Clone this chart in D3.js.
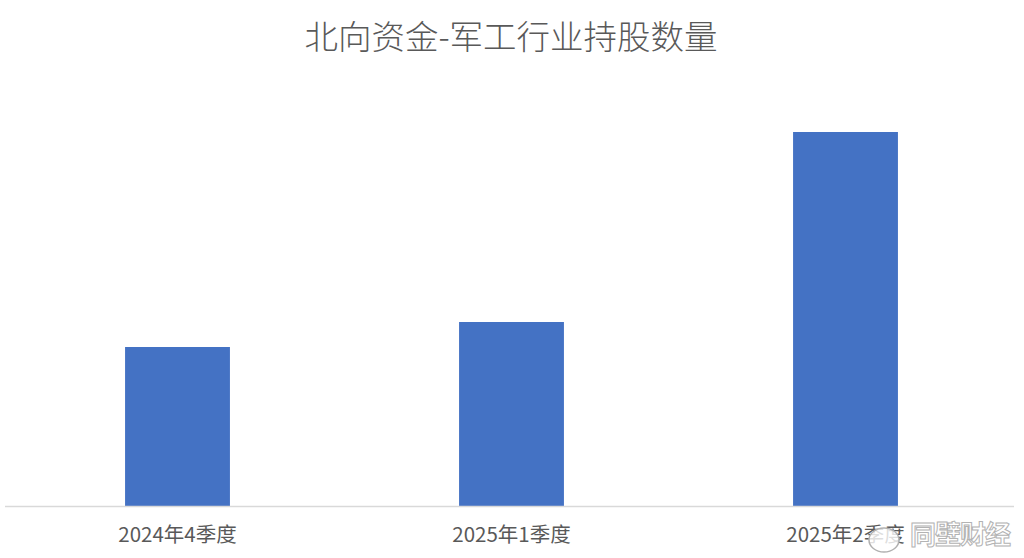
<!DOCTYPE html>
<html>
<head>
<meta charset="utf-8">
<script src="https://cdn.jsdelivr.net/npm/d3@7"></script>
<style>
  body { margin: 0; background: #fff; }
</style>
</head>
<body>
<svg id="chart"></svg>
<script>
// Data
const categories = ["2024年4季度", "2025年1季度", "2025年2季度"];
const holdings = [1.59, 1.84, 3.74];

const width = 1024, height = 558;
const margin = {top: 106, bottom: 52, left: 10.5, right: 11.5};

const svg = d3.select("#chart")
    .attr("width", width)
    .attr("height", height)
    .style("background", "#ffffff");

// Title
svg.append("text")
    .attr("x", 511)
    .attr("y", 49)
    .attr("text-anchor", "middle")
    .style("font-family", "'Noto Sans CJK SC', sans-serif")
    .style("font-weight", 300)
    .style("font-size", "33.5px")
    .style("fill", "#595959")
    .text("北向资金-军工行业持股数量");

// Scales
const x = d3.scaleBand()
    .domain(categories)
    .range([margin.left, width - margin.right])
    .paddingInner(0.686)
    .paddingOuter(0.343);

const y = d3.scaleLinear()
    .domain([0, 4])
    .range([height - margin.bottom, margin.top]);

// Bars
svg.selectAll("rect.bar")
    .data(holdings)
    .enter().append("rect")
    .attr("class", "bar")
    .attr("x", (d, i) => x(categories[i]))
    .attr("y", d => y(d))
    .attr("width", x.bandwidth())
    .attr("height", d => y(0) - y(d))
    .attr("fill", "#4472c4");

// x axis
const xAxis = svg.append("g")
    .attr("transform", `translate(0,${y(0)})`)
    .call(d3.axisBottom(x).tickSize(0).tickPadding(21));

xAxis.select(".domain")
    .attr("d", `M5,0.5H1014`)
    .attr("stroke", "#d9d9d9")
    .attr("stroke-width", 1.5);

xAxis.selectAll("text")
    .style("font-family", "'Liberation Sans Narrow', 'Noto Sans CJK SC', sans-serif")
    .style("font-size", "20.5px")
    .style("fill", "#595959");

// watermark
const wm = svg.append("g");
wm.append("ellipse")
    .attr("cx", 884).attr("cy", 540).attr("rx", 15).attr("ry", 12)
    .attr("fill", "#ffffff").attr("fill-opacity", 0.8)
    .attr("stroke", "#b0b0b0").attr("stroke-width", 1.5);
wm.append("text")
    .attr("x", 910)
    .attr("y", 544)
    .style("font-family", "'Noto Sans CJK SC', sans-serif")
    .style("font-size", "26px")
    .style("font-weight", "bold")
    .style("letter-spacing", "-1px")
    .style("fill", "#ffffff")
    .style("stroke", "#b3b3b3")
    .style("stroke-width", 1)
    .text("同壁财经");
</script>
</body>
</html>
